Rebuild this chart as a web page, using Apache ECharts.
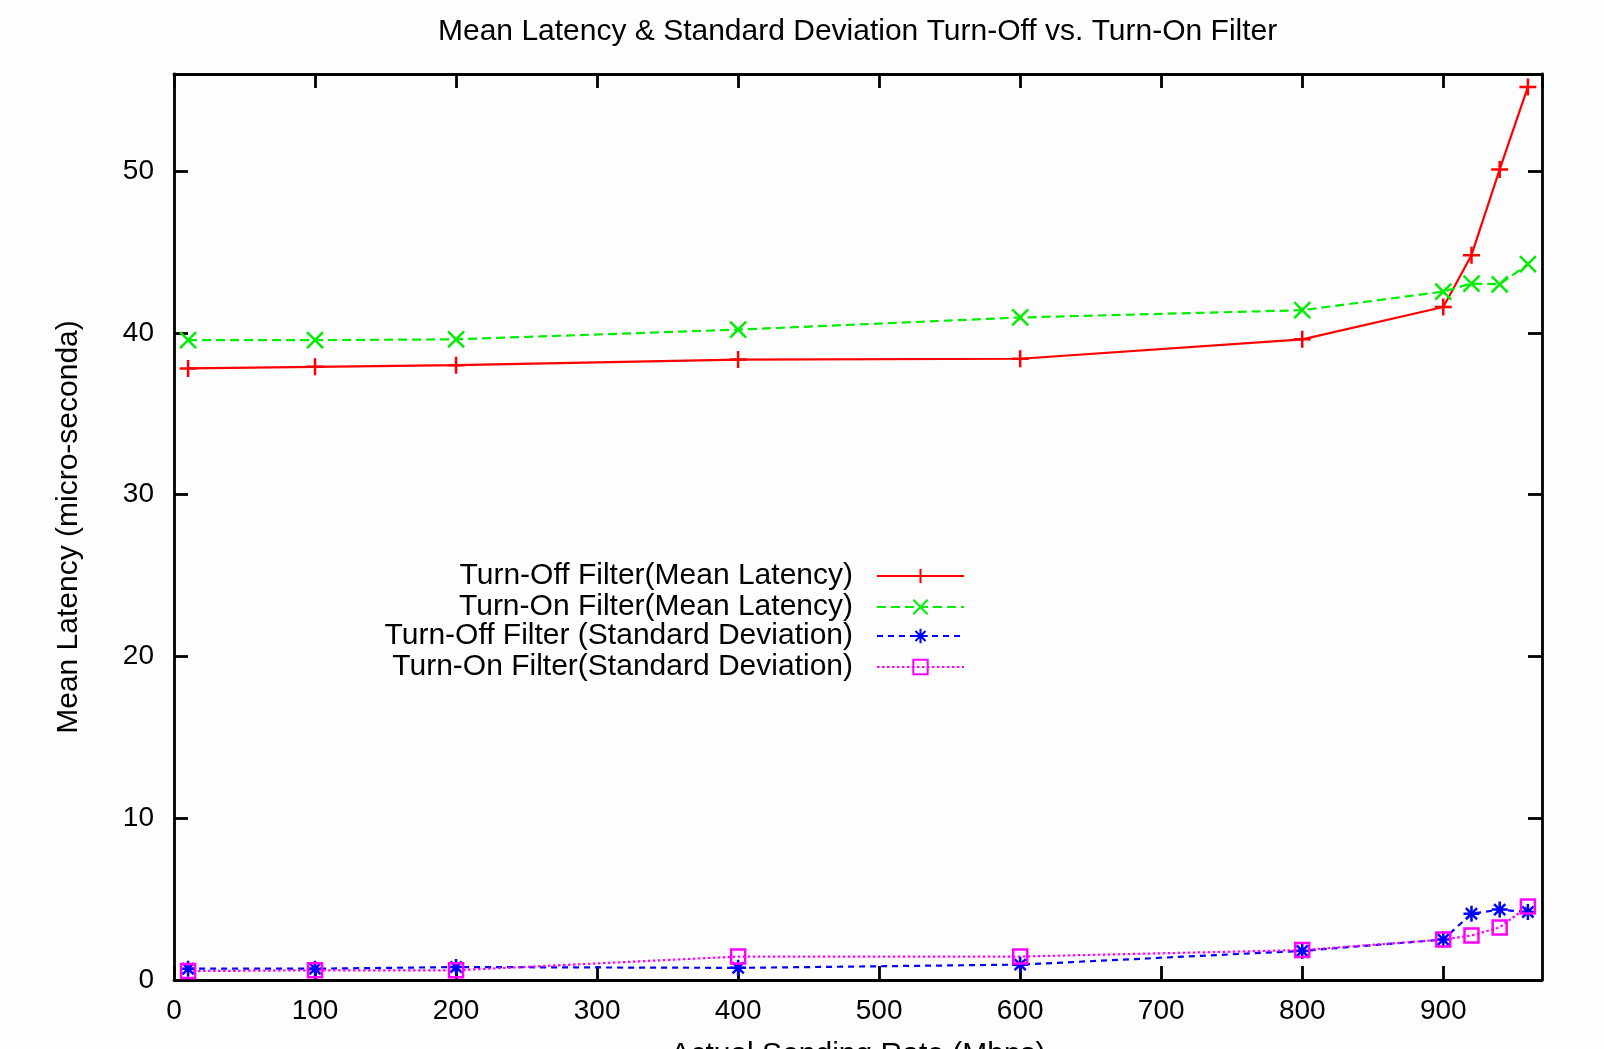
<!DOCTYPE html>
<html><head><meta charset="utf-8">
<script src="https://cdn.jsdelivr.net/npm/echarts@6/dist/echarts.min.js"></script>
<style>html,body{margin:0;padding:0;background:#fdfdfd;}#c{width:1604px;height:1049px;}</style>
</head><body><div id="c"></div>
<script>
const xValues = [10, 100, 200, 400, 600, 800, 900, 920, 940, 960];
const offMean = [37.8, 37.9, 38.0, 38.35, 38.4, 39.6, 41.6, 44.8, 50.1, 55.2];
const onMean = [39.55, 39.55, 39.6, 40.2, 40.95, 41.4, 42.55, 43.05, 43.0, 44.25];
const offStd = [0.7, 0.7, 0.8, 0.75, 0.95, 1.8, 2.5, 4.1, 4.35, 4.2];
const onStd = [0.55, 0.6, 0.6, 1.45, 1.45, 1.85, 2.5, 2.75, 3.25, 4.55];
const seriesNames = ['Turn-Off Filter(Mean Latency)', 'Turn-On Filter(Mean Latency)', 'Turn-Off Filter (Standard Deviation)', 'Turn-On Filter(Standard Deviation)'];
const xTickLabels = ['0','100','200','300','400','500','600','700','800','900'];
const yTickLabels = ['0','10','20','30','40','50'];

const FONT = 'Liberation Sans, Arial, sans-serif';
const sym = {
  plus: 'path://M5,0L5,10M0,5L10,5',
  cross: 'path://M0,0L10,10M10,0L0,10',
  star: 'path://M5,0L5,10M0,5L10,5M1.5,1.5L8.5,8.5M8.5,1.5L1.5,8.5',
  square: 'path://M0,0L10,0L10,10L0,10Z'
};
function pairs(vals){ return xValues.map((x,i)=>[x, vals[i]]); }
function mk(name, vals, color, type, symbol, size){
  return {
    name, type:'line', data: pairs(vals), symbol, symbolSize: size,
    itemStyle:{color:'none', borderColor: color, borderWidth: 2.5},
    lineStyle:{color, width: 2.2, type},
    emphasis:{disabled:true}, z: 3
  };
}
const colors = ['#ff0000', '#00ee00', '#0000ff', '#ff00ff'];
const series = [
  mk(seriesNames[0], offMean, colors[0], 'solid', sym.plus, 17),
  mk(seriesNames[1], onMean, colors[1], [9,5], sym.cross, 16),
  mk(seriesNames[2], offStd, colors[2], [6,5], sym.star, 16),
  mk(seriesNames[3], onStd, colors[3], [2.5,2.5], sym.square, 14)
];
const rowTops = [561, 592, 621, 652];
const legends = seriesNames.map((n,i)=>({
  data:[n], right: 639, top: rowTops[i], align:'right', orient:'vertical',
  itemWidth: 87, itemHeight: 18, selectedMode:false, padding:0,
  textStyle:{fontFamily:FONT, fontSize:30, color:'#000', padding:[0,19,0,0]}
}));
const axisLineStyle = {color:'#000', width:2.8};
const tickStyle = {show:true, inside:true, length:14, lineStyle:{color:'#000', width:2.8}};
const chart = echarts.init(document.getElementById('c'), null, {renderer:'canvas'});
chart.setOption({
  animation:false,
  backgroundColor:'#fdfdfd',
  title:{text:'Mean Latency & Standard Deviation Turn-Off vs. Turn-On Filter', left:433, top:12,
    textStyle:{fontFamily:FONT, fontSize:30, fontWeight:'normal', color:'#000'}},
  legend: legends,
  grid:{left:174, right:62, top:74, bottom:69, show:false, outerBoundsMode:'none', containLabel:false},
  xAxis:[{
    type:'value', min:0, max:970, interval:100, position:'bottom',
    name:'Actual Sending Rate (Mbps)', nameLocation:'middle', nameGap:60,
    nameTextStyle:{fontFamily:FONT, fontSize:30, color:'#000', verticalAlign:'top'},
    axisLine:{show:true, onZero:false, lineStyle:axisLineStyle},
    axisTick:tickStyle,
    axisLabel:{fontFamily:FONT, fontSize:28, color:'#000', margin:17, showMaxLabel:false,
      formatter:(v)=>xTickLabels[Math.round(v/100)] ?? ''},
    splitLine:{show:false}
  },{
    type:'value', min:0, max:970, interval:100, position:'top',
    axisLine:{show:true, onZero:false, lineStyle:axisLineStyle},
    axisTick:tickStyle,
    axisLabel:{show:false}, splitLine:{show:false}
  }],
  yAxis:[{
    type:'value', min:0, max:56, interval:10, position:'left',
    name:'Mean Latency (micro-seconda)', nameLocation:'middle', nameGap:90, nameRotate:90,
    nameTextStyle:{fontFamily:FONT, fontSize:30, color:'#000'},
    axisLine:{show:true, onZero:false, lineStyle:axisLineStyle},
    axisTick:tickStyle,
    axisLabel:{fontFamily:FONT, fontSize:28, color:'#000', margin:20, showMaxLabel:false,
      formatter:(v)=>yTickLabels[Math.round(v/10)] ?? ''},
    splitLine:{show:false}
  },{
    type:'value', min:0, max:56, interval:10, position:'right',
    axisLine:{show:true, onZero:false, lineStyle:axisLineStyle},
    axisTick:tickStyle,
    axisLabel:{show:false}, splitLine:{show:false}
  }],
  series
});
</script></body></html>
